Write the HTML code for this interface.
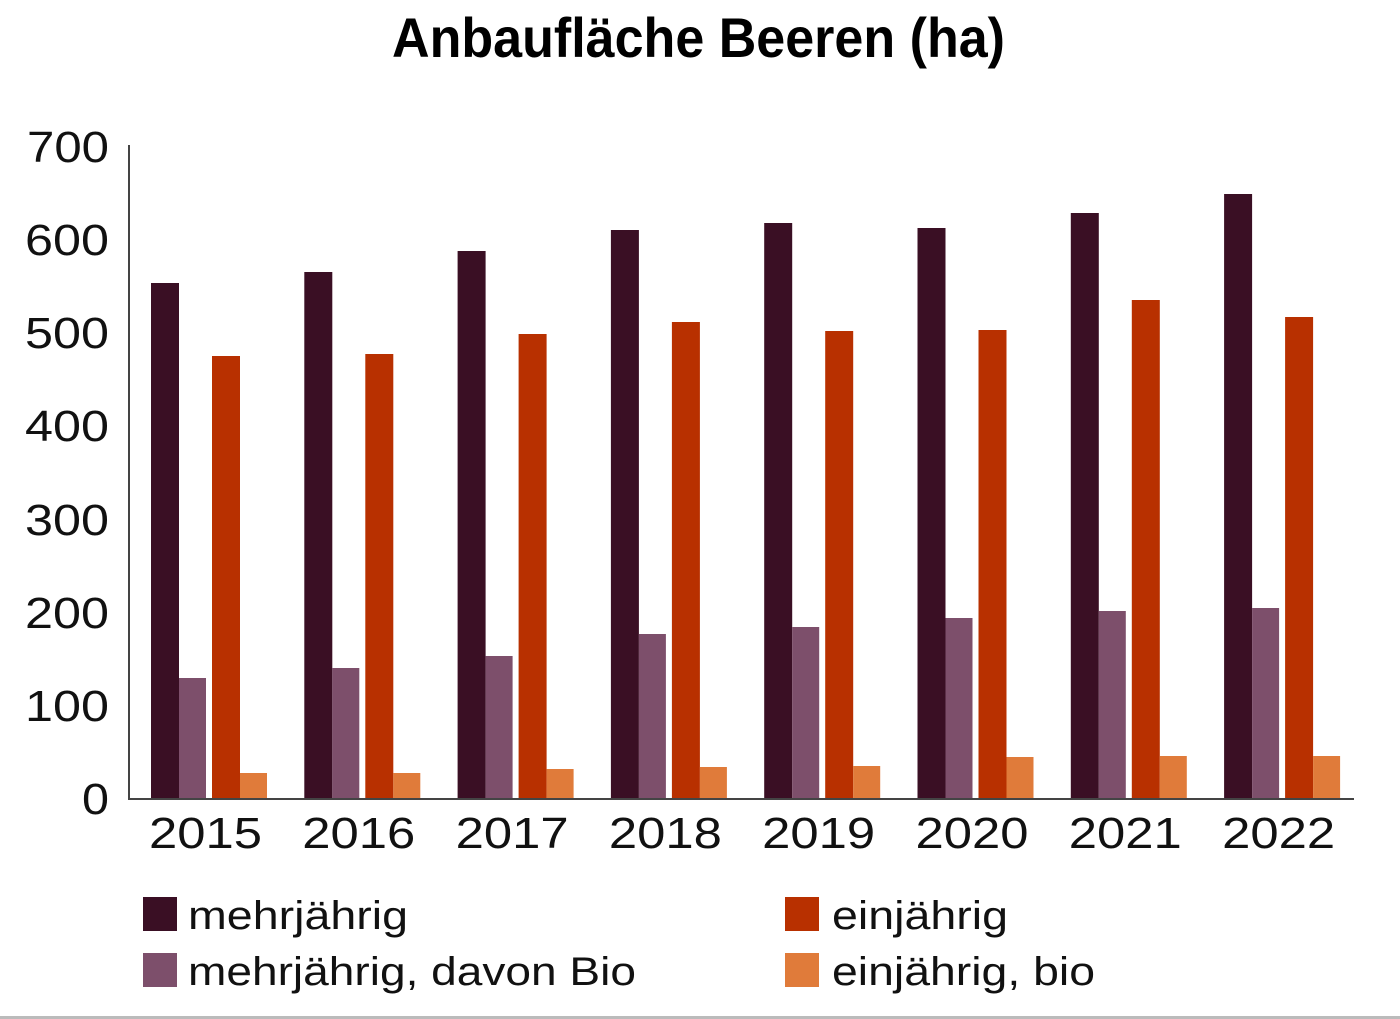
<!DOCTYPE html>
<html><head><meta charset="utf-8"><style>html,body{margin:0;padding:0;background:#fff}svg{display:block}</style></head>
<body>
<svg width="1400" height="1019" viewBox="0 0 1400 1019" xmlns="http://www.w3.org/2000/svg">
<rect width="1400" height="1019" fill="#fff"/>
<text x="392" y="57" font-family="Liberation Sans, sans-serif" font-weight="bold" font-size="56" textLength="613" lengthAdjust="spacingAndGlyphs" fill="#000">Anbaufläche Beeren (ha)</text>
<g font-family="Liberation Sans, sans-serif" font-size="44" fill="#111" lengthAdjust="spacingAndGlyphs">
<text x="27" y="162" textLength="82" lengthAdjust="spacingAndGlyphs">700</text>
<text x="25" y="255" textLength="84" lengthAdjust="spacingAndGlyphs">600</text>
<text x="25" y="348" textLength="84" lengthAdjust="spacingAndGlyphs">500</text>
<text x="25" y="441" textLength="84" lengthAdjust="spacingAndGlyphs">400</text>
<text x="25" y="535" textLength="84" lengthAdjust="spacingAndGlyphs">300</text>
<text x="25" y="628" textLength="84" lengthAdjust="spacingAndGlyphs">200</text>
<text x="25" y="721" textLength="84" lengthAdjust="spacingAndGlyphs">100</text>
<text x="82" y="814" textLength="27" lengthAdjust="spacingAndGlyphs">0</text>
</g>
<g id="bars"></g>
<line x1="129" y1="145" x2="129" y2="800" stroke="#444" stroke-width="2"/>
<line x1="128" y1="799" x2="1354" y2="799" stroke="#444" stroke-width="2"/>
<g font-family="Liberation Sans, sans-serif" font-size="44" fill="#111" id="xl"></g>
<g font-family="Liberation Sans, sans-serif" font-size="40" fill="#111">
<rect x="143" y="897" width="34" height="34" fill="#3a0f24"/>
<text x="188" y="929" textLength="220" lengthAdjust="spacingAndGlyphs">mehrjährig</text>
<rect x="143" y="953" width="34" height="34" fill="#7d4f6b"/>
<text x="188" y="985" textLength="448" lengthAdjust="spacingAndGlyphs">mehrjährig, davon Bio</text>
<rect x="785" y="897" width="34" height="34" fill="#b83000"/>
<text x="832" y="929" textLength="176" lengthAdjust="spacingAndGlyphs">einjährig</text>
<rect x="785" y="953" width="34" height="34" fill="#e07b3a"/>
<text x="832" y="985" textLength="263" lengthAdjust="spacingAndGlyphs">einjährig, bio</text>
</g>
<rect x="0" y="1016" width="1400" height="3" fill="#bbb"/>
<script>
var d=[283,272,251,230,223,228,213,194],p=[678,668,656,634,627,618,611,608],o=[356,354,334,322,331,330,300,317],l=[773,773,769,767,766,757,756,756];
var ns="http://www.w3.org/2000/svg",g=document.getElementById('bars'),xl=document.getElementById('xl');
function r(x,y,w,c){var e=document.createElementNS(ns,'rect');e.setAttribute('x',x);e.setAttribute('y',y);e.setAttribute('width',w);e.setAttribute('height',799-y);e.setAttribute('fill',c);g.appendChild(e);}
for(var i=0;i<8;i++){var b=151+153.3*i;r(b,d[i],28,'#3a0f24');r(b+28,p[i],27,'#7d4f6b');r(b+61,o[i],28,'#b83000');r(b+89,l[i],27,'#e07b3a');
var t=document.createElementNS(ns,'text');t.setAttribute('x',b-2);t.setAttribute('y',848);t.setAttribute('textLength',113);t.setAttribute('lengthAdjust','spacingAndGlyphs');t.textContent=2015+i;xl.appendChild(t);}
</script>
</svg>
</body></html>
